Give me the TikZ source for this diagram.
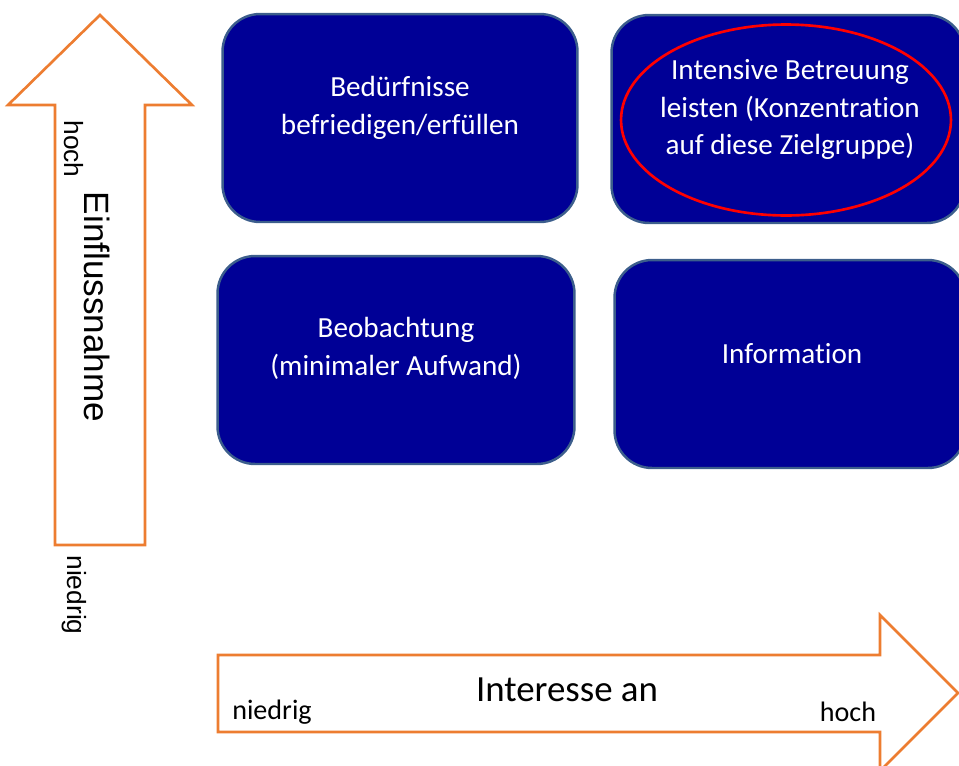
\documentclass[tikz,border=0pt]{standalone}
\usepackage{fontspec}
\setmainfont{Carlito}[Ligatures=NoCommon]
\newfontfamily\arialfont{Liberation Sans}
\usetikzlibrary{shapes.geometric, positioning}
\definecolor{matrixblue}{RGB}{0,0,150}
\definecolor{matrixedge}{RGB}{60,94,140}
\definecolor{axisorange}{RGB}{237,125,49}

\begin{document}
\begin{tikzpicture}[x=0.02cm, y=-0.02cm,
		field/.style={draw=matrixedge, line width=1.4pt, fill=matrixblue, rounded corners=0.75cm, minimum width=7.1cm, minimum height=4.16cm},
		fieldtext/.style={text=white, align=center, font=\fontsize{16.6}{21.5}\selectfont},
		axis/.style={draw=axisorange, line width=1.5pt, fill=white},
		scalelabel/.style={font=\fontsize{16}{19}\selectfont},
		sidelabel/.style={rotate=-90, font=\arialfont\fontsize{15}{18}\selectfont}]
		\clip (0,0) rectangle (959,765);
		
		% Achsen
		\draw[axis] (55,545) -- (55,105) -- (8,105) -- (100,15) -- (192,105) -- (145,105) -- (145,545) -- cycle;
		\draw[axis] (218,655) -- (880,655) -- (880,615) -- (958,693) -- (880,771) -- (880,732) -- (218,732) -- cycle;
		
		% Felder
		\node[field] (b1) at (400,118) {};
		\node[field, minimum width=7.06cm] (b2) at (788,119) {};
		\node[field, minimum width=7.14cm] (b3) at (396,360) {};
		\node[field, minimum width=7.02cm] (b4) at (790,364) {};
		\node[fieldtext] (t1) at ([yshift=0.21cm]b1.center) {Bedürfnisse\\befriedigen/erfüllen};
		\node[fieldtext] (t2) at ([xshift=0.04cm, yshift=0.19cm]b2.center) {Intensive Betreuung\\leisten (Konzentration\\auf diese Zielgruppe)};
		\node[fieldtext] (t3) at ([yshift=0.23cm]b3.center) {Beobachtung\\(minimaler Aufwand)};
		\node[fieldtext] (t4) at ([xshift=0.04cm, yshift=0.2cm]b4.center) {Information};
		\node[draw=red, line width=1.5pt, ellipse, minimum width=6.6cm, minimum height=3.82cm] (hl) at (786,120) {};
		
		% Beschriftungen
		\node[sidelabel, font=\arialfont\fontsize{20}{23}\selectfont] (einfluss) at (97,307) {Einflussnahme};
		\node[sidelabel] (vhoch) at (74,149) {hoch};
		\node[sidelabel] (vniedrig) at (74,595) {niedrig};
		\node[font=\fontsize{21}{25}\selectfont] (interesse) at (567,690) {Interesse an};
		\node[scalelabel] (hniedrig) at (272,712) {niedrig};
		\node[scalelabel] (hhoch) at (848,712) {hoch};
	\end{tikzpicture}
\end{document}
